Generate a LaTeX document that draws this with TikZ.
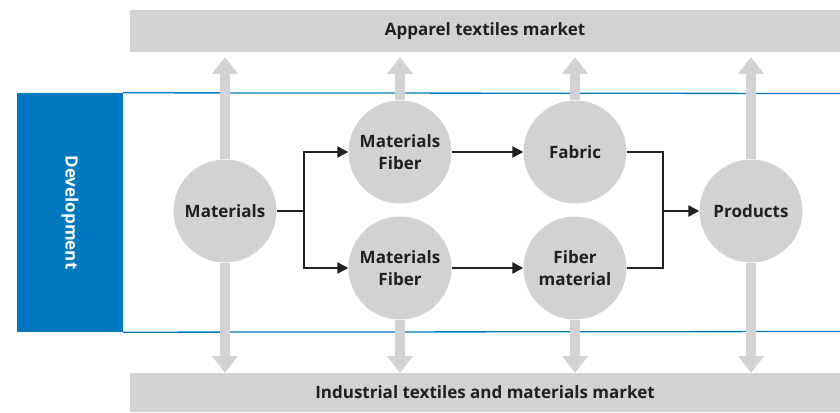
\documentclass[tikz,border=0pt]{standalone}
\usepackage{fontspec}
\setmainfont{Open Sans}
\usetikzlibrary{arrows.meta}
\definecolor{mgray}{HTML}{D1D2D4}
\definecolor{mblue}{HTML}{0079C1}
\definecolor{mtext}{HTML}{231F20}
\begin{document}
\begin{tikzpicture}[x=1pt,y=-1pt,
  lbl/.style={font=\bfseries\fontsize{17}{22}\selectfont, text=mtext},
  circ/.style={lbl, circle, fill=mgray, minimum size=103pt, inner sep=0pt, align=center},
  bar/.style={lbl, fill=mgray, inner sep=0pt, minimum width=710pt},
  bigarrow/.style={draw=mgray, line width=10pt, -{Triangle[width=25pt,length=17pt]}},
  flow/.style={draw=mtext, line width=2.4pt, -{Triangle[width=11pt,length=11pt]}},
  flowline/.style={draw=mtext, line width=2.4pt},
  blueline/.style={draw=mblue, line width=1.3pt}]
\useasboundingbox (0,0) rectangle (840,412);
% bars
\node[bar, minimum height=42pt] (top) at (485,31) {Apparel textiles market};
\node[bar, minimum height=39pt] (bot) at (485,392.5) {Industrial textiles and materials market};
% development box
\node[fill=mblue, minimum width=106pt, minimum height=239pt, inner sep=0pt] (dev) at (70,212.5) {};
\node[lbl, text=white, rotate=-90] (devt) at (dev.center) {Development};
\coordinate (lt) at (840,93.5);
\coordinate (lb) at (840,331.5);
\draw[blueline] (dev.north east) -- (lt);
\draw[blueline] (dev.south east) -- (lb);
% circles
\node[circ] (m) at (225,211) {Materials};
\node[circ] (mf1) at (400,152) {Materials\\Fiber};
\node[circ] (mf2) at (400,268) {Materials\\Fiber};
\node[circ] (fab) at (575,152) {Fabric};
\node[circ] (fm) at (575,268) {Fiber\\material};
\node[circ] (prod) at (751,211) {Products};
% big arrows
\foreach \n/\x in {m/225,mf1/400,fab/575,prod/751}{
  \coordinate (u\n) at (\x,57);
  \coordinate (d\n) at (\x,373);
}
\foreach \n in {m,mf1,fab,prod}{
  \draw[bigarrow] (\n.north) -- (u\n);
}
\draw[bigarrow] (m.south) -- (dm);
\draw[bigarrow] (mf2.south) -- (dmf1);
\draw[bigarrow] (fm.south) -- (dfab);
\draw[bigarrow] (prod.south) -- (dprod);
% flow arrows
\coordinate (j1) at (304,211);
\coordinate (j2) at (663,211);
\draw[flowline] (m.east) -- (j1);
\draw[flow] (j1) |- (mf1.west);
\draw[flow] (j1) |- (mf2.west);
\draw[flow] (mf1.east) -- (fab.west);
\draw[flow] (mf2.east) -- (fm.west);
\draw[flowline] (fab.east) -| (j2);
\draw[flowline] (fm.east) -| (j2);
\draw[flow] (j2) -- (prod.west);
\end{tikzpicture}
\end{document}
